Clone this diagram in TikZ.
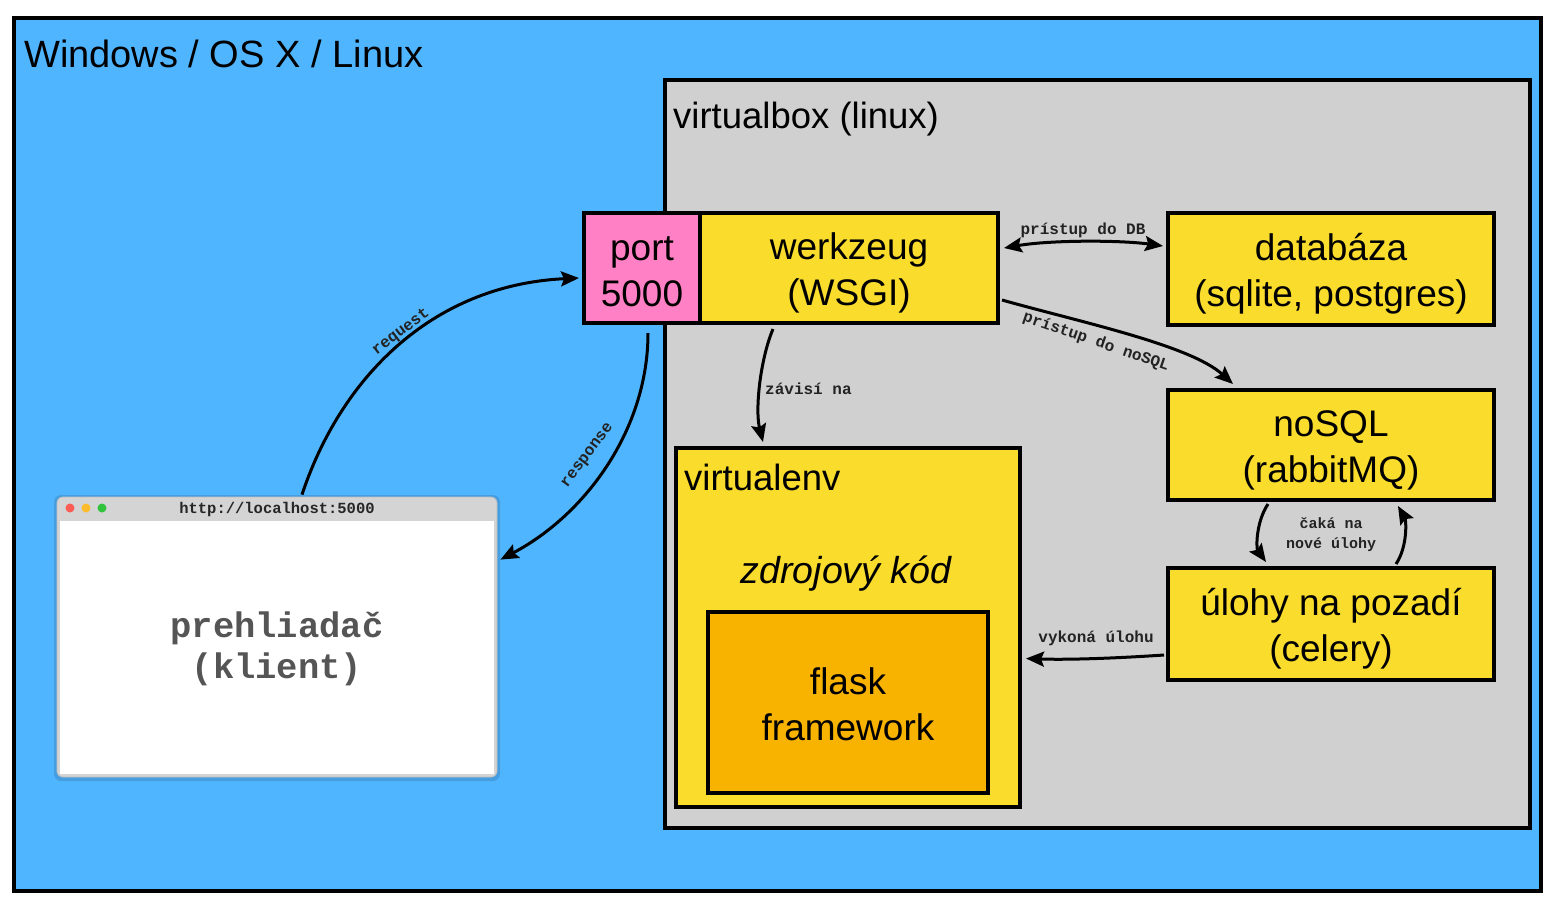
\documentclass[tikz,border=0pt]{standalone}
\usepackage{fontspec}
\setmainfont{Liberation Sans}
\newfontfamily\monof{Liberation Mono}
\usetikzlibrary{arrows.meta,calc}
\definecolor{osblue}{RGB}{80,181,255}
\definecolor{vboxgray}{RGB}{208,208,208}
\definecolor{boxyellow}{RGB}{250,220,45}
\definecolor{flaskorange}{RGB}{248,178,0}
\definecolor{portpink}{RGB}{255,128,196}
\definecolor{bargray}{RGB}{212,212,212}
\definecolor{clientgray}{RGB}{85,85,85}
\definecolor{lblcol}{RGB}{35,35,35}
\definecolor{dotred}{RGB}{252,92,84}
\definecolor{dotyellow}{RGB}{253,188,44}
\definecolor{dotgreen}{RGB}{50,195,60}
\begin{document}
\begin{tikzpicture}[x=1pt,y=-1pt,
  box/.style={draw=black, line width=4pt, inner sep=0pt},
  tip/.tip={Stealth[length=18pt,width=15pt,inset=3pt]},
  conn/.style={line width=3pt, draw=black, -tip},
  lbl/.style={font=\monof\bfseries\fontsize{16}{20}\selectfont, inner sep=1pt, text=lblcol, align=center},
  bigtxt/.style={inner sep=0pt, align=center, font=\fontsize{37}{46}\selectfont},
  boxtxt/.style={bigtxt, yshift=-5pt}
]
\useasboundingbox[fill=white] (0,0) rectangle (1556,906);

% frames
\node[box, fill=osblue, minimum width=1527, minimum height=873] (os) at (777.5,454.5) {};
\node[anchor=base west, bigtxt, font=\fontsize{38}{46}\selectfont] (ostitle) at (24,67) {Windows / OS X / Linux};

\node[box, fill=vboxgray, minimum width=865, minimum height=748] (vbox) at (1097.5,454) {};
\node[anchor=base west, bigtxt, font=\fontsize{36.5}{44}\selectfont] (vboxtitle) at (673,128) {virtualbox (linux)};

% boxes
\node[box, fill=portpink, minimum width=116, minimum height=110] (port) at (642,268) {};
\node[boxtxt, yshift=1pt] (porttxt) at (port.center) {port\\5000};
\node[box, fill=boxyellow, minimum width=298, minimum height=110] (werk) at (849,268) {};
\node[boxtxt] (werktxt) at (werk.center) {werkzeug\\(WSGI)};
\node[box, fill=boxyellow, minimum width=326, minimum height=112] (db) at (1331,269) {};
\node[boxtxt] (dbtxt) at (db.center) {databáza\\(sqlite, postgres)};
\node[box, fill=boxyellow, minimum width=326, minimum height=110] (nosql) at (1331,445) {};
\node[boxtxt] (nosqltxt) at (nosql.center) {noSQL\\(rabbitMQ)};
\node[box, fill=boxyellow, minimum width=326, minimum height=112] (celery) at (1331,624) {};
\node[boxtxt] (celerytxt) at (celery.center) {úlohy na pozadí\\(celery)};

\node[box, fill=boxyellow, minimum width=344, minimum height=359] (venv) at (848,627.5) {};
\node[anchor=base west, bigtxt, font=\fontsize{36.5}{44}\selectfont] (venvtitle) at (684,490) {virtualenv};
\node[anchor=base, bigtxt, font=\fontsize{37.5}{44}\selectfont\itshape] (src) at (846,583) {zdrojový kód};
\node[box, fill=flaskorange, minimum width=280, minimum height=181] (flask) at (848,702.5) {};
\node[boxtxt, yshift=3pt] (flasktxt) at (flask.center) {flask\\framework};

% browser window
\fill[black, opacity=0.12, rounded corners=7pt] (54,495) rectangle (500,781);
\node[draw=black!25, line width=0.8pt, fill=bargray, rounded corners=6pt, minimum width=440, minimum height=280, inner sep=0pt] (browser) at (277,637) {};
\fill[white] ($(browser.north west)+(3,24)$) rectangle ($(browser.south east)+(-3,-3)$);
\node[circle, fill=dotred, minimum size=9pt, inner sep=0pt] (dotr) at (70,508) {};
\node[circle, fill=dotyellow, minimum size=9pt, inner sep=0pt] (doty) at (86,508) {};
\node[circle, fill=dotgreen, minimum size=9pt, inner sep=0pt] (dotg) at (102,508) {};
\node[lbl, font=\monof\bfseries\fontsize{15.5}{18}\selectfont, text=black!85] (url) at (277,509) {http://localhost:5000};
\node[inner sep=0pt, align=center, text=clientgray, font=\monof\bfseries\fontsize{35.5}{41}\selectfont] (client) at (277,649) {prehliadač\\(klient)};

% connectors
\draw[conn] ($(browser.north)+(25,-2)$) .. controls (340,380) and (430,285) .. ($(port.west)+(-3,10)$);
\node[lbl, rotate=37] (reqlbl) at (401,332) {request};

\draw[conn] ($(port.south)+(6,8)$) .. controls (648,430) and (585,515) .. ($(browser.north east)+(3,63)$);
\node[lbl, rotate=53] (resplbl) at (588,456) {response};

\draw[conn] ($(werk.south west)+(75,4)$) .. controls (760,360) and (755,410) .. ($(venv.north west)+(89,-4)$);
\node[lbl, anchor=west] (deplbl) at (764,389) {závisí na};

\draw[conn, tip-tip] ($(werk.east)+(4,-20)$) .. controls (1050,240) and (1120,240) .. ($(db.west)+(-3,-23)$);
\node[lbl] (dblbl) at (1083,230) {prístup do DB};

\draw[conn] ($(werk.east)+(2,32)$) .. controls (1080,322) and (1190,345) .. ($(nosql.north west)+(67,-4)$);
\node[lbl, rotate=-19] (nosqllbl) at (1096,342) {prístup do noSQL};

\draw[conn] ($(nosql.south west)+(102,2)$) .. controls (1256,522) and (1256,548) .. ($(celery.north west)+(100,-4)$);
\draw[conn] ($(celery.north west)+(230,-2)$) .. controls (1408,546) and (1406,520) .. ($(nosql.south west)+(232,4)$);
\node[lbl, font=\monof\bfseries\fontsize{15}{20}\selectfont] (waitlbl) at (1331,535) {čaká na\\nové úlohy};

\draw[conn] ($(celery.west)+(-2,31)$) .. controls (1120,658) and (1070,660) .. ($(venv.east)+(4,31)$);
\node[lbl] (execlbl) at (1096,638) {vykoná úlohu};
\end{tikzpicture}
\end{document}
